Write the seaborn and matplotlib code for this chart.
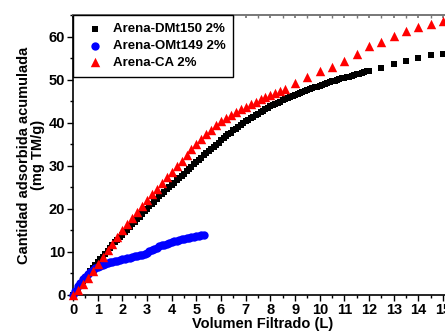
import matplotlib
matplotlib.use('Agg')
import matplotlib.pyplot as plt
import seaborn as sns
import pandas as pd
from matplotlib.ticker import MultipleLocator

# ---- data ----
dmt_x = [0.0, 0.1, 0.2, 0.3, 0.4, 0.5, 0.6, 0.7, 0.8, 0.9,
         1.0, 1.1, 1.2, 1.3, 1.4, 1.5, 1.6, 1.7, 1.8, 1.9,
         2.0, 2.1, 2.2, 2.3, 2.4, 2.5, 2.6, 2.7, 2.8, 2.9,
         3.0, 3.1, 3.2, 3.3, 3.4, 3.5, 3.6, 3.7, 3.8, 3.9,
         4.0, 4.1, 4.2, 4.3, 4.4, 4.5, 4.6, 4.7, 4.8, 4.9,
         5.0, 5.1, 5.2, 5.3, 5.4, 5.5, 5.6, 5.7, 5.8, 5.9,
         6.0, 6.1, 6.2, 6.3, 6.4, 6.5, 6.6, 6.7, 6.8, 6.9,
         7.0, 7.1, 7.2, 7.3, 7.4, 7.5, 7.6, 7.7, 7.8, 7.9,
         8.0, 8.1, 8.2, 8.3, 8.4, 8.5, 8.6, 8.7, 8.8, 8.9,
         9.0, 9.1, 9.2, 9.3, 9.4, 9.5, 9.6, 9.7, 9.8, 9.9,
         10.0, 10.1, 10.2, 10.3, 10.4, 10.5, 10.6, 10.7, 10.8, 10.9,
         11.0, 11.1, 11.2, 11.3, 11.4, 11.5, 11.6, 11.7, 11.8, 11.9,
         12.0, 12.5, 13.0, 13.5, 14.0, 14.5, 15.0]
dmt_y = [0.0, 0.8, 1.6, 2.4, 3.2, 4.0, 4.7, 5.5, 6.2, 6.9,
         7.6, 8.3, 8.9, 9.6, 10.2, 10.9, 11.5, 12.2, 12.8, 13.4,
         14.0, 14.6, 15.2, 15.8, 16.4, 17.0, 17.6, 18.2, 18.8, 19.4,
         20.0, 20.6, 21.1, 21.7, 22.3, 22.9, 23.4, 24.0, 24.5, 25.1,
         25.6, 26.1, 26.6, 27.2, 27.7, 28.2, 28.7, 29.3, 29.8, 30.3,
         30.8, 31.3, 31.8, 32.4, 32.9, 33.4, 33.9, 34.4, 34.9, 35.4,
         35.9, 36.4, 36.8, 37.3, 37.7, 38.2, 38.6, 39.1, 39.5, 39.9,
         40.3, 40.7, 41.0, 41.4, 41.7, 42.1, 42.4, 42.8, 43.1, 43.5,
         43.8, 44.1, 44.3, 44.6, 44.9, 45.2, 45.4, 45.7, 45.9, 46.2,
         46.4, 46.7, 46.9, 47.1, 47.3, 47.6, 47.8, 48.0, 48.2, 48.4,
         48.6, 48.8, 49.0, 49.2, 49.4, 49.6, 49.7, 49.9, 50.1, 50.3,
         50.4, 50.6, 50.7, 50.9, 51.1, 51.3, 51.4, 51.6, 51.7, 51.9,
         52.0, 52.8, 53.7, 54.4, 55.0, 55.6, 56.0]

omt_x = [0.0, 0.1, 0.2, 0.3, 0.4, 0.5, 0.6, 0.7, 0.8, 0.9,
         1.0, 1.1, 1.2, 1.3, 1.4, 1.5, 1.6, 1.7, 1.8, 1.9,
         2.0, 2.1, 2.2, 2.3, 2.4, 2.5, 2.6, 2.7, 2.8, 2.9,
         3.0, 3.1, 3.2, 3.3, 3.4, 3.5, 3.6, 3.7, 3.8, 3.9,
         4.0, 4.1, 4.2, 4.3, 4.4, 4.5, 4.6, 4.7, 4.8, 4.9,
         5.0, 5.1, 5.2, 5.3]
omt_y = [0.0, 1.0, 2.0, 2.8, 3.6, 4.2, 4.8, 5.3, 5.8, 6.2,
         6.5, 6.8, 7.0, 7.2, 7.4, 7.6, 7.7, 7.9, 8.0, 8.2,
         8.3, 8.4, 8.5, 8.7, 8.8, 9.0, 9.1, 9.3, 9.4, 9.6,
         9.8, 10.1, 10.4, 10.7, 11.0, 11.3, 11.5, 11.7, 11.9, 12.1,
         12.3, 12.5, 12.6, 12.8, 12.9, 13.1, 13.2, 13.3, 13.4, 13.5,
         13.6, 13.8, 13.9, 14.0]

ca_x = [0.0, 0.2, 0.4, 0.6, 0.8, 1.0, 1.2, 1.4, 1.6, 1.8, 2.0, 2.2, 2.4, 2.6, 2.8,
        3.0, 3.2, 3.4, 3.6, 3.8, 4.0, 4.2, 4.4, 4.6, 4.8, 5.0, 5.2, 5.4, 5.6, 5.8,
        6.0, 6.2, 6.4, 6.6, 6.8, 7.0, 7.2, 7.4, 7.6, 7.8, 8.0, 8.2, 8.4, 8.6,
        9.0, 9.5, 10.0, 10.5, 11.0, 11.5, 12.0, 12.5, 13.0, 13.5, 14.0, 14.5, 15.0]
ca_y = [0.0, 1.2, 2.6, 4.0, 5.6, 7.2, 8.8, 10.4, 11.9, 13.5, 15.0, 16.4, 17.8, 19.2, 20.6,
        22.0, 23.4, 24.7, 26.0, 27.3, 28.6, 29.9, 31.2, 32.5, 33.8, 35.0, 36.2, 37.3, 38.4, 39.4,
        40.3, 41.0, 41.7, 42.4, 43.1, 43.7, 44.3, 44.9, 45.4, 45.9, 46.4, 46.9, 47.4, 47.9,
        49.3, 50.5, 51.9, 53.0, 54.4, 55.9, 57.7, 58.8, 60.2, 61.4, 62.3, 63.0, 63.5]

labels = ['Arena-DMt150 2%', 'Arena-OMt149 2%', 'Arena-CA 2%']
x_ticks = [0, 1, 2, 3, 4, 5, 6, 7, 8, 9, 10, 11, 12, 13, 14, 15]
y_ticks = [0, 10, 20, 30, 40, 50, 60]

df_dmt = pd.DataFrame({'x': dmt_x, 'y': dmt_y})
df_omt = pd.DataFrame({'x': omt_x, 'y': omt_y})
df_ca = pd.DataFrame({'x': ca_x, 'y': ca_y})

sns.set_theme(style='white')
plt.rcParams['font.family'] = ['Liberation Sans', 'DejaVu Sans']
plt.rcParams['font.weight'] = 'bold'

fig = plt.figure(figsize=(4.45, 3.31), dpi=100)
ax = fig.add_axes([73 / 445, 36 / 331, 380 / 445, 280 / 331])

sns.scatterplot(data=df_dmt, x='x', y='y', ax=ax, marker='s', s=24, color='black',
                linewidth=0, label=labels[0], clip_on=False, zorder=3)
sns.scatterplot(data=df_omt, x='x', y='y', ax=ax, marker='o', s=36, color='#0000ff',
                linewidth=0, label=labels[1], clip_on=False, zorder=4)
sns.scatterplot(data=df_ca, x='x', y='y', ax=ax, marker='^', s=46, color='#ff0000',
                linewidth=0, label=labels[2], clip_on=False, zorder=5)

ax.set_xlim(0, 15.4)
ax.set_ylim(0, 65)
ax.set_xticks(x_ticks)
ax.set_yticks(y_ticks)
ax.xaxis.set_minor_locator(MultipleLocator(0.5))
ax.yaxis.set_minor_locator(MultipleLocator(5))
ax.tick_params(axis='both', which='major', direction='out', length=4, width=1,
               labelsize=10.5, color='black', pad=1.5, labelcolor='black')
ax.tick_params(axis='both', which='minor', direction='out', length=2.5, width=1,
               color='black')
ax.tick_params(left=True, bottom=True, which='both')
for lab in ax.get_xticklabels() + ax.get_yticklabels():
    lab.set_fontweight('bold')

for side in ['left', 'bottom']:
    ax.spines[side].set_color('black')
    ax.spines[side].set_linewidth(1.2)
ax.spines['top'].set_color('#777777')
ax.spines['top'].set_linewidth(1.2)
ax.spines['right'].set_visible(False)

sec = ax.secondary_xaxis('top')
sec.set_xticks(x_ticks)
sec.xaxis.set_minor_locator(MultipleLocator(0.5))
sec.tick_params(axis='x', which='both', direction='in', length=2.5, color='#777777',
                labeltop=False)
sec.spines['top'].set_color('#777777')

ax.set_xlabel('Volumen Filtrado (L)', fontsize=10.5, fontweight='bold', labelpad=0,
              color='black')
ax.set_ylabel('Cantidad adsorbida acumulada\n(mg TM/g)', fontsize=10.5,
              fontweight='bold', labelpad=3, color='black', linespacing=1.0)

leg = ax.legend(loc='upper left', frameon=True, fancybox=False, borderaxespad=0,
                prop={'weight': 'bold', 'size': 9.5}, handletextpad=0.2,
                labelspacing=0.35, borderpad=0.6, handlelength=2.2, framealpha=1)
leg.get_frame().set_edgecolor('black')
leg.get_frame().set_linewidth(1.0)
for t in leg.get_texts():
    t.set_color('black')

fig.savefig('out.png', dpi=100)
